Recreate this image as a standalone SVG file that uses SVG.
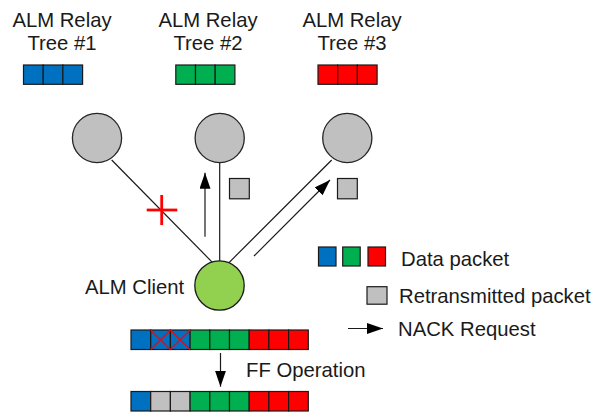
<svg xmlns="http://www.w3.org/2000/svg" width="598" height="416" viewBox="0 0 598 416">
<style>
text{font-family:"Liberation Sans",Arial,sans-serif;font-size:20.3px;fill:#1a1a1a}
.c{text-anchor:middle}
.b{fill:#0070C0;stroke:#1a1a1a;stroke-width:1.2}
.g{fill:#00B050;stroke:#1a1a1a;stroke-width:1.2}
.r{fill:#FF0000;stroke:#1a1a1a;stroke-width:1.2}
.s{fill:#C0C0C0;stroke:#1a1a1a;stroke-width:1.2}
.node{fill:#C0C0C0;stroke:#262626;stroke-width:1.3}
.ln{stroke:#1a1a1a;stroke-width:1.2;fill:none}
.x{stroke:#FF0000;stroke-width:1.2}
</style>
<defs>
<marker id="ah" markerUnits="userSpaceOnUse" markerWidth="17" markerHeight="12" refX="16" refY="5.5" orient="auto">
<path d="M0,0 L16,5.5 L0,11 z" fill="#000"/>
</marker>
</defs>

<g id="tree1">
<text class="c" x="62" y="26.5">ALM Relay</text>
<text class="c" x="62" y="49.5">Tree #1</text>
<rect class="b" x="23.5" y="65" width="19.7" height="19.3"/>
<rect class="b" x="43.2" y="65" width="19.7" height="19.3"/>
<rect class="b" x="62.9" y="65" width="19.7" height="19.3"/>
<circle class="node" cx="97" cy="138" r="24.6"/>
</g>
<g id="tree2">
<text class="c" x="208" y="26.5">ALM Relay</text>
<text class="c" x="208" y="49.5">Tree #2</text>
<rect class="g" x="175.8" y="65" width="19.7" height="19.3"/>
<rect class="g" x="195.5" y="65" width="19.7" height="19.3"/>
<rect class="g" x="215.2" y="65" width="19.7" height="19.3"/>
<circle class="node" cx="219.7" cy="138" r="24.6"/>
</g>
<g id="tree3">
<text class="c" x="352" y="26.5">ALM Relay</text>
<text class="c" x="352" y="49.5">Tree #3</text>
<rect class="r" x="318" y="65" width="19.7" height="19.3"/>
<rect class="r" x="337.7" y="65" width="19.7" height="19.3"/>
<rect class="r" x="357.4" y="65" width="19.7" height="19.3"/>
<circle class="node" cx="347.3" cy="138" r="24.6"/>
</g>

<g id="connectors">
<line class="ln" x1="111.7" y1="160" x2="213.3" y2="263.3"/>
<line class="ln" x1="219.7" y1="162.6" x2="219.7" y2="261"/>
<line class="ln" x1="331.7" y1="160" x2="228.3" y2="263.3"/>
<line class="ln" x1="205" y1="236.7" x2="205" y2="172.7" marker-end="url(#ah)"/>
<line class="ln" x1="254" y1="256" x2="330" y2="180" marker-end="url(#ah)"/>
<line class="ln" x1="220.5" y1="353" x2="220.5" y2="386.7" marker-end="url(#ah)"/>
</g>

<g id="failure">
<line x1="146.7" y1="210" x2="177.3" y2="210" stroke="#FF0000" stroke-width="2.8"/>
<line x1="161.7" y1="195" x2="161.7" y2="225" stroke="#FF0000" stroke-width="2.8"/>
</g>

<g id="retrans">
<rect class="s" x="229.5" y="178.5" width="19.8" height="20.3"/>
<rect class="s" x="337.5" y="178.5" width="19.8" height="20.3"/>
</g>

<g id="client">
<circle cx="219.5" cy="285.5" r="24.7" fill="#92D050" stroke="#1a1a1a" stroke-width="1.3"/>
<text x="85" y="294">ALM Client</text>
</g>

<g id="buffer-before">
<rect class="b" x="131" y="330" width="19.7" height="19.5"/>
<rect class="b" x="150.7" y="330" width="19.7" height="19.5"/>
<rect class="b" x="170.4" y="330" width="19.7" height="19.5"/>
<rect class="g" x="190.1" y="330" width="19.7" height="19.5"/>
<rect class="g" x="209.8" y="330" width="19.7" height="19.5"/>
<rect class="g" x="229.5" y="330" width="19.7" height="19.5"/>
<rect class="r" x="249.2" y="330" width="19.7" height="19.5"/>
<rect class="r" x="268.9" y="330" width="19.7" height="19.5"/>
<rect class="r" x="288.6" y="330" width="19.7" height="19.5"/>
<path class="x" d="M150.7,330 L170.4,349.5 M170.4,330 L150.7,349.5 M170.4,330 L190.1,349.5 M190.1,330 L170.4,349.5"/>
</g>

<g id="ff">
<text x="246" y="377">FF Operation</text>
</g>

<g id="buffer-after">
<rect class="b" x="131" y="391.5" width="19.7" height="19.5"/>
<rect class="s" x="150.7" y="391.5" width="19.7" height="19.5"/>
<rect class="s" x="170.4" y="391.5" width="19.7" height="19.5"/>
<rect class="g" x="190.1" y="391.5" width="19.7" height="19.5"/>
<rect class="g" x="209.8" y="391.5" width="19.7" height="19.5"/>
<rect class="g" x="229.5" y="391.5" width="19.7" height="19.5"/>
<rect class="r" x="249.2" y="391.5" width="19.7" height="19.5"/>
<rect class="r" x="268.9" y="391.5" width="19.7" height="19.5"/>
<rect class="r" x="288.6" y="391.5" width="19.7" height="19.5"/>
</g>

<g id="legend">
<rect class="b" x="318.5" y="247" width="17.5" height="19"/>
<rect class="g" x="342.7" y="247" width="17.5" height="19"/>
<rect class="r" x="368" y="247" width="17.5" height="19"/>
<text x="401" y="266">Data packet</text>
<rect class="s" x="367" y="286.7" width="20" height="17.5"/>
<text x="399" y="302.5">Retransmitted packet</text>
<line class="ln" x1="348" y1="328.5" x2="383" y2="328.5" marker-end="url(#ah)"/>
<text x="398" y="335.5">NACK Request</text>
</g>
</svg>
